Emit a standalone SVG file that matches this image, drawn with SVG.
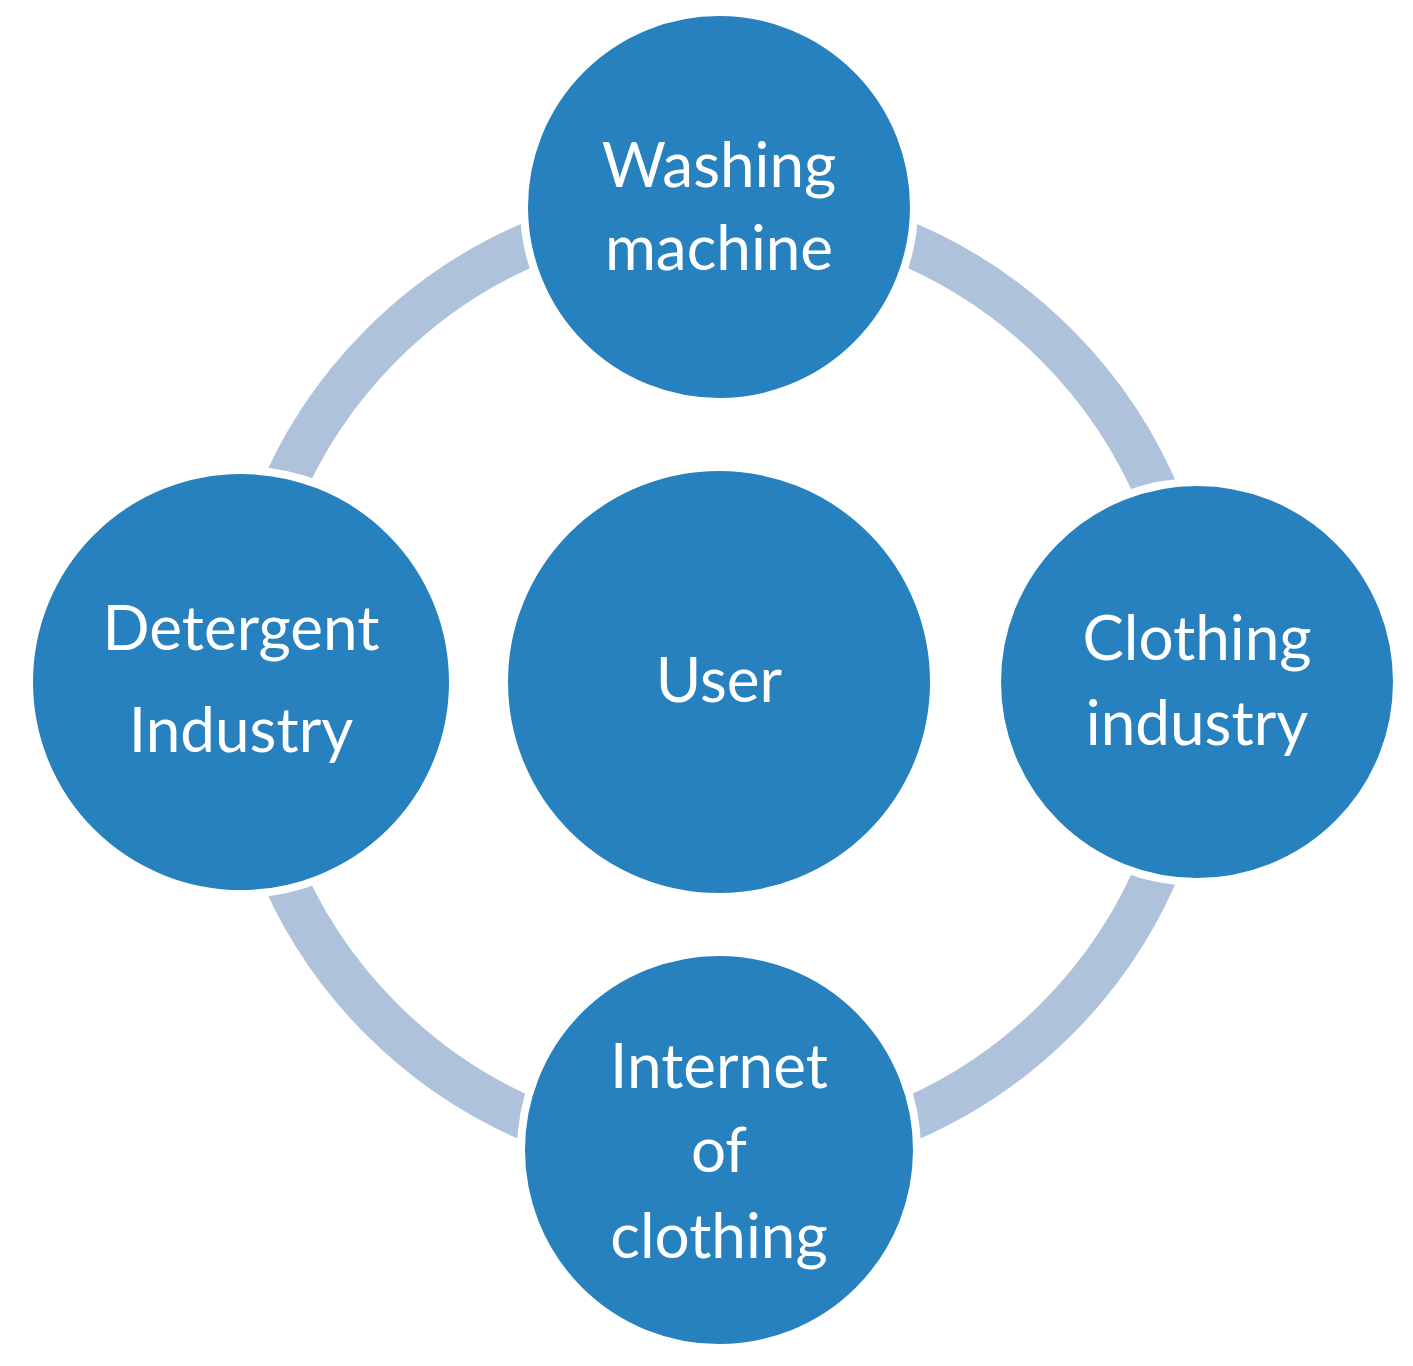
<svg xmlns="http://www.w3.org/2000/svg" width="1413" height="1366" viewBox="0 0 1413 1366">
<style>
.n{fill:#2781BF;stroke:#fff;stroke-width:8}
.t{fill:#fff;font-family:Lato,"Open Sans",sans-serif;font-size:62px;text-anchor:middle}
</style>
<rect width="1413" height="1366" fill="#fff"/>
<g id="connectors"><circle cx="719" cy="682" r="477" fill="none" stroke="#AEC2DC" stroke-width="44"/></g>
<g id="user"><circle class="n" cx="719" cy="682" r="215"/><text class="t" x="719" y="702">User</text></g>
<g id="washing"><circle class="n" cx="719" cy="207" r="195"/><text class="t" x="719" y="187">Washing</text><text class="t" x="719" y="270">machine</text></g>
<g id="clothing"><circle class="n" cx="1197" cy="682" r="200"/><text class="t" x="1197" y="660">Clothing</text><text class="t" x="1197" y="745">industry</text></g>
<g id="internet"><circle class="n" cx="719" cy="1150" r="198"/><text class="t" x="719" y="1088">Internet</text><text class="t" x="719" y="1172">of</text><text class="t" x="719" y="1258">clothing</text></g>
<g id="detergent"><circle class="n" cx="241" cy="682" r="212"/><text class="t" x="241" y="650">Detergent</text><text class="t" x="241" y="752">Industry</text></g>
</svg>
